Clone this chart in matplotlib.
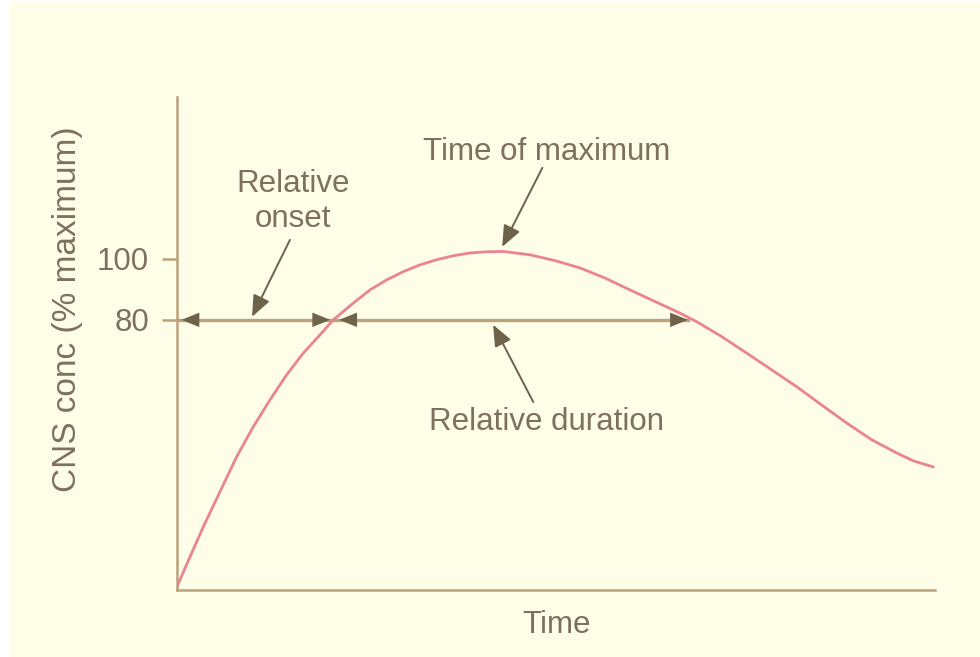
import matplotlib
matplotlib.use("Agg")
import matplotlib.pyplot as plt
from matplotlib.patches import Rectangle

# ---- data ----
time = [0, 1.72, 3.47, 5.67, 7.88, 10.07, 12.27, 14.47, 16.66, 18.87, 20.62,
        23.26, 25.46, 27.67, 29.86, 32.06, 34.26, 36.45, 38.65, 40.86, 43.05,
        46.57, 49.87, 53.17, 56.46, 59.76, 63.06, 66.36, 68.56, 71.86, 75.16,
        78.46, 81.75, 85.05, 88.35, 91.65, 94.95, 97.14, 99.78]
conc = [-7.4, 2.4, 12.2, 23.7, 35.2, 45.0, 53.8, 62.0, 69.1, 75.1, 80.0,
        85.5, 89.8, 93.1, 95.8, 98.0, 99.7, 101.0, 101.9, 102.3, 102.4,
        101.3, 99.4, 97.0, 93.7, 89.8, 86.0, 82.2, 79.4, 74.5, 69.1,
        63.6, 58.1, 52.1, 46.2, 40.7, 36.4, 33.8, 31.8]
ytick_vals = [80, 100]
ytick_labels = ["80", "100"]
level = 80            # threshold level (% maximum)
onset_t = 20.8        # curve rises through 80
offset_t = 67.4       # curve falls through 80
t_max = 42.9          # time of maximum

BG = "#fefde8"
AXC = "#b9a27c"
TXT = "#7d715c"
HEAD = "#6e6248"
CURVE = "#ea8490"
FONT = ["Liberation Sans", "DejaVu Sans"]
FS = 22.5

fig = plt.figure(figsize=(9.8, 6.57), dpi=100)
fig.patch.set_facecolor("white")
fig.patches.append(Rectangle((10 / 980, 0), 1, 1 - 2 / 657, transform=fig.transFigure,
                             facecolor=BG, edgecolor="none", zorder=-10))

ax = fig.add_axes([177 / 980, 1 - 590 / 657, (935 - 177) / 980, (590 - 97) / 657])
ax.set_facecolor("none")
ax.set_xlim(0, 100)
ax.set_ylim(-8.5, 153)

ax.plot(time, conc, color=CURVE, lw=2.0, solid_capstyle="round",
        solid_joinstyle="round", zorder=3)

# horizontal 80% line
ax.plot([0, offset_t], [level, level], color=AXC, lw=2.4, zorder=2)

head = "<|-|>,head_length=0.64,head_width=0.26"
for a, b in [(0.6, onset_t - 0.6), (onset_t + 0.6, offset_t)]:
    ax.annotate("", xy=(b, level), xytext=(a, level),
                arrowprops=dict(arrowstyle=head, mutation_scale=20, lw=0,
                                fc=HEAD, ec=HEAD, shrinkA=0, shrinkB=0), zorder=4)

ptr = "-|>,head_length=0.65,head_width=0.27"
pp = dict(arrowstyle=ptr, mutation_scale=20, lw=1.4, color=HEAD, shrinkA=0, shrinkB=0)

ax.text(15.3, 118.8, "Relative\nonset", ha="center", va="center",
        fontsize=FS, color=TXT, family=FONT, linespacing=1.2)
ax.annotate("", xy=(9.9, 81.0), xytext=(14.9, 106.2), arrowprops=pp)

ax.text(48.8, 135.0, "Time of maximum", ha="center", va="center",
        fontsize=FS, color=TXT, family=FONT)
ax.annotate("", xy=(t_max, 103.9), xytext=(48.2, 129.8), arrowprops=pp)

ax.text(48.8, 46.5, "Relative duration", ha="center", va="center",
        fontsize=FS, color=TXT, family=FONT)
ax.annotate("", xy=(41.7, 78.4), xytext=(47.0, 53.1), arrowprops=pp)

# axes styling
for s in ["top", "right"]:
    ax.spines[s].set_visible(False)
for s in ["left", "bottom"]:
    ax.spines[s].set_color(AXC)
    ax.spines[s].set_linewidth(1.8)
ax.set_xticks([])
ax.set_yticks(ytick_vals)
ax.set_yticklabels(ytick_labels, fontsize=FS, color=TXT, family=FONT)
ax.tick_params(axis="y", length=11, width=1.8, color=AXC, pad=9)

ax.set_ylabel("CNS conc (% maximum)", fontsize=24, color=TXT, family=FONT)
ax.yaxis.set_label_coords(-0.124, 0.57)
ax.set_xlabel("Time", fontsize=FS, color=TXT, family=FONT)
ax.xaxis.set_label_coords(0.5, -0.04)

fig.savefig("out.png", dpi=100, facecolor=fig.get_facecolor())
